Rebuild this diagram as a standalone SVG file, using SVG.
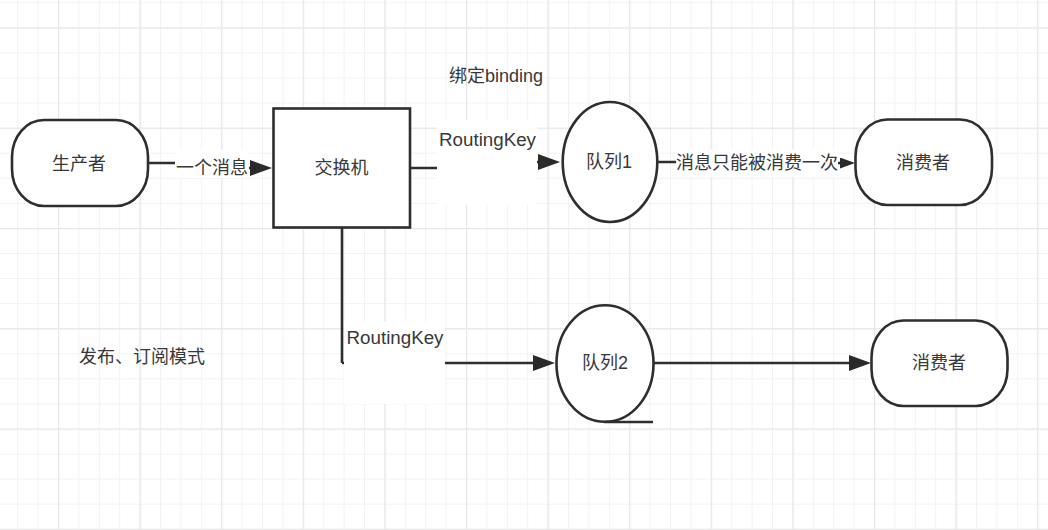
<svg xmlns="http://www.w3.org/2000/svg" width="1048" height="530" viewBox="0 0 1048 530">
<style>
.node{fill:#fff;stroke:#2e2e2e;stroke-width:2.6}
.txt{font-family:"Liberation Sans","Noto Sans CJK SC",sans-serif;font-size:18px;fill:#383838}
.c{text-anchor:middle;dominant-baseline:central}
.conn{fill:none;stroke:#2e2e2e;stroke-width:2.6}
.bg{fill:#fff}
</style>
<defs>
<pattern id="minor" patternUnits="userSpaceOnUse" x="17.2" y="2.3" width="20.4" height="25.07">
<rect x="0" y="0" width="1" height="25.07" fill="#f2f2f2"/>
<rect x="0" y="0" width="20.4" height="1" fill="#f2f2f2"/>
</pattern>
<pattern id="major" patternUnits="userSpaceOnUse" x="58" y="27.4" width="81.6" height="100.28">
<rect x="0" y="0" width="1.2" height="100.28" fill="#e7e7e7"/>
<rect x="0" y="0" width="81.6" height="1.2" fill="#e7e7e7"/>
</pattern>
<marker id="arr" viewBox="0 0 22 16" markerUnits="userSpaceOnUse" markerWidth="22" markerHeight="16" refX="14" refY="8" orient="auto">
<path d="M0 0 L22 8 L0 16 Z" fill="#2a2a2a"/>
</marker>
<marker id="arrs" viewBox="0 0 15 11" markerUnits="userSpaceOnUse" markerWidth="15" markerHeight="11" refX="9" refY="5.5" orient="auto">
<path d="M0 0 L15 5.5 L0 11 Z" fill="#2a2a2a"/>
</marker>
</defs>
<rect width="1048" height="530" fill="#fff"/>
<rect width="1048" height="530" fill="url(#minor)"/>
<rect width="1048" height="530" fill="url(#major)"/>

<g id="connectors">
<path class="conn" d="M148 163 H180 L245 168 H264" marker-end="url(#arr)"/>
<path class="conn" d="M410 168 H440 L535 162 H552" marker-end="url(#arr)"/>
<path class="conn" d="M657 162 H680 L835 163 H849" marker-end="url(#arrs)"/>
<path class="conn" d="M342 228 V363" stroke="#35292b" stroke-width="3.4"/>
<path class="conn" d="M342 363 H547" stroke-width="3.6" marker-end="url(#arr)"/>
<path class="conn" d="M653 363 H863" marker-end="url(#arr)"/>
<rect class="bg" x="175" y="150" width="74" height="28"/>
<text class="txt c" x="212" y="168">一个消息</text>
<rect class="bg" x="437" y="120" width="100" height="85"/>
<text class="txt c" x="487.5" y="139.5" textLength="97" lengthAdjust="spacingAndGlyphs">RoutingKey</text>
<rect class="bg" x="676" y="149" width="162" height="28"/>
<text class="txt c" x="757" y="163">消息只能被消费一次</text>
<rect class="bg" x="344" y="322" width="101" height="82"/>
<text class="txt c" x="395" y="338" textLength="97" lengthAdjust="spacingAndGlyphs">RoutingKey</text>
</g>

<g id="producer">
<rect class="node" x="12" y="120" width="136" height="86" rx="32" ry="37"/>
<text class="txt c" x="79" y="164">生产者</text>
</g>
<g id="exchange">
<rect class="node" x="273.5" y="108.5" width="136.5" height="119"/>
<text class="txt c" x="341.5" y="168">交换机</text>
</g>
<g id="queue1">
<ellipse class="node" cx="610" cy="162" rx="47.3" ry="60"/>
<text class="txt c" x="609" y="162">队列1</text>
</g>
<g id="consumer1">
<rect class="node" x="855.5" y="119.5" width="136.5" height="85.5" rx="32" ry="37"/>
<text class="txt c" x="923" y="163">消费者</text>
</g>
<g id="queue2">
<ellipse class="node" cx="605" cy="363.5" rx="48.5" ry="58.3"/>
<path class="conn" d="M604 422 H653" stroke-width="3.4"/>
<text class="txt c" x="605" y="363">队列2</text>
</g>
<g id="consumer2">
<rect class="node" x="871.5" y="320.5" width="136" height="85.5" rx="32" ry="37"/>
<text class="txt c" x="939" y="363">消费者</text>
</g>
<g id="labels">
<text class="txt c" x="496" y="76">绑定binding</text>
<text class="txt c" x="142" y="357">发布、订阅模式</text>
</g>
</svg>
